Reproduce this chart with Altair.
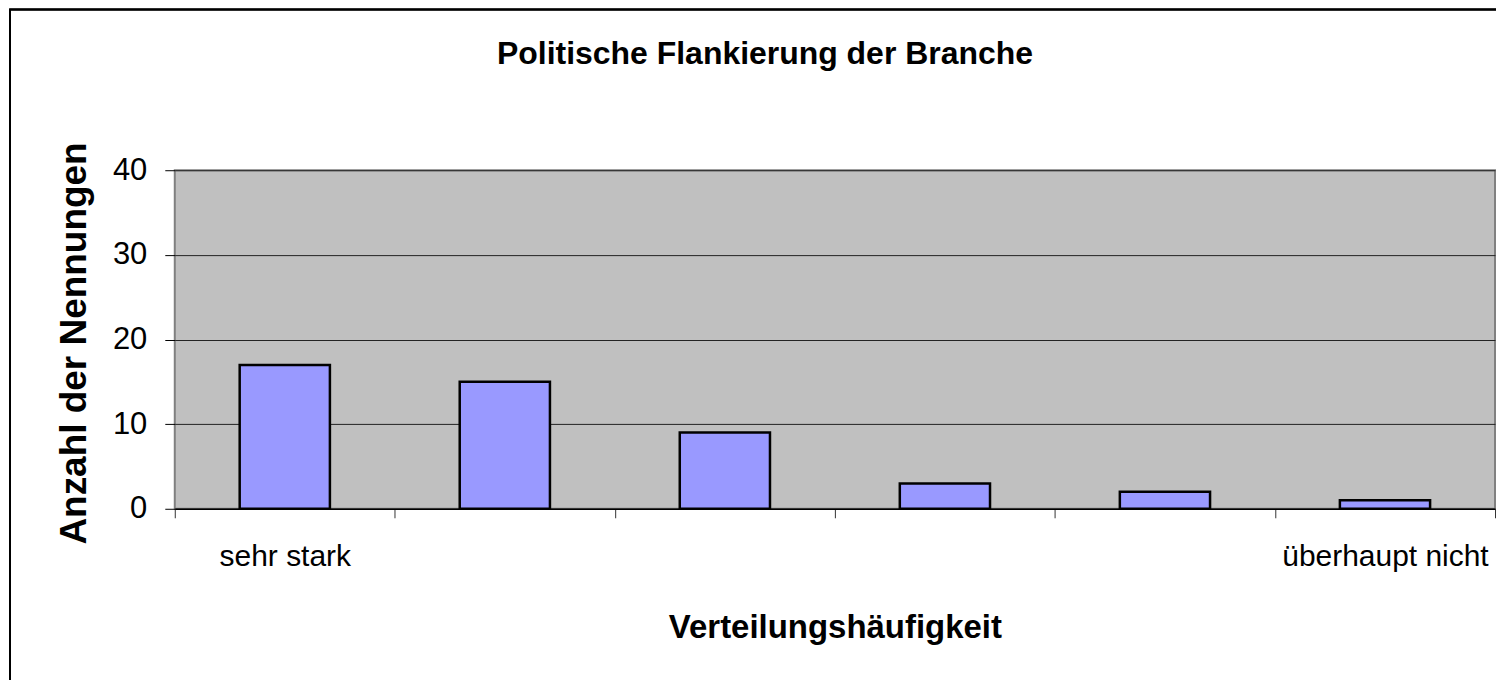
import altair as alt
import pandas as pd

# Data
stufen = [1, 2, 3, 4, 5, 6]
nennungen = [17, 15, 9, 3, 2, 1]
x_labels = ["sehr stark", "", "", "", "", "überhaupt nicht"]
y_ticks = [0, 10, 20, 30, 40]

title_text = "Politische Flankierung der Branche"
x_title = "Verteilungshäufigkeit"
y_title = "Anzahl der Nennungen"

df = pd.DataFrame({"stufe": stufen, "nennungen": nennungen})

label_expr = " : ".join(
    [f"datum.value == {s} ? '{l}'" for s, l in zip(stufen, x_labels)] + ["''"]
)

FONT = "Liberation Sans"

bars = alt.Chart(df).mark_bar(
    color="#9999FF", stroke="#000000", strokeWidth=2.5,
    width=alt.RelativeBandSize(0.41),
).encode(
    x=alt.X(
        "stufe:O",
        scale=alt.Scale(paddingInner=0, paddingOuter=0),
        axis=alt.Axis(
            title=x_title,
            labelExpr=label_expr,
            labelAngle=0,
            labelFontSize=30,
            labelFont=FONT,
            labelColor="#000000",
            labelPadding=24,
            labelOverlap=False,
            labelBound=False,
            labelLimit=0,
            tickBand="extent",
            tickSize=9,
            tickColor="#333333",
            tickWidth=1,
            domainColor="#000000",
            domainWidth=1.5,
            titleFont=FONT,
            titleFontSize=33,
            titleFontWeight="bold",
            titleColor="#000000",
            titleBaseline="alphabetic",
            titleY=129,
            grid=False,
        ),
    ),
    y=alt.Y(
        "nennungen:Q",
        scale=alt.Scale(domain=[0, 40], nice=False),
        axis=alt.Axis(
            title=y_title,
            values=y_ticks,
            labelFontSize=31,
            labelFont=FONT,
            labelColor="#000000",
            labelPadding=18,
            tickSize=10,
            tickColor="#000000",
            tickWidth=1,
            domain=False,
            grid=True,
            gridColor="#222222",
            gridWidth=1,
            titleFont=FONT,
            titleFontSize=37,
            titleFontWeight="bold",
            titleColor="#000000",
            titleAngle=-90,
            titleBaseline="alphabetic",
            titleAlign="center",
            titleX=-89,
            titleY=173,
        ),
    ),
)

frame = alt.Chart(df).mark_rect(
    fill=None, stroke="#000000", strokeWidth=1.5
).encode(
    x=alt.value(-165), x2=alt.value(1340), y=alt.value(-161), y2=alt.value(530)
)

chart = alt.layer(frame, bars).properties(
    width=1322,
    height=339,
    padding={"left": 167, "top": 162, "right": 1, "bottom": 171},
    autosize=alt.AutoSizeParams(type="none"),
    title=alt.TitleParams(
        text=title_text,
        font=FONT,
        fontSize=32,
        fontWeight="bold",
        color="#000000",
        anchor="middle",
        frame="group",
        dx=-70,
        dy=87,
        baseline="alphabetic",
        offset=0,
    ),
    background="#FFFFFF",
).configure_view(
    fill="#C0C0C0", stroke="#808080", strokeWidth=2
)

chart.save("out.html", embed_options={"renderer": "svg", "actions": False})
